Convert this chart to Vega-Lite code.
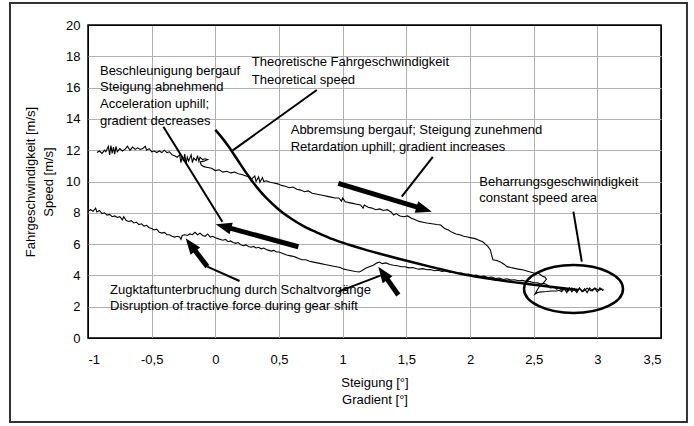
{
  "$schema": "https://vega.github.io/schema/vega-lite/v6.json",
  "width": 573,
  "height": 313,
  "autosize": {"type": "none"},
  "padding": {"left": 88, "top": 25, "right": 33, "bottom": 88},
  "background": "white",
  "config": {
    "font": "Liberation Sans",
    "view": {"stroke": "black", "strokeWidth": 1.5},
    "axis": {
      "grid": true, "gridWidth": 1, "gridOpacity": 1,
      "domain": false, "ticks": false,
      "labelFont": "Liberation Sans", "labelFontSize": 13, "labelColor": "black",
      "titleFont": "Liberation Sans", "titleFontSize": 13, "titleFontWeight": "normal", "titleColor": "black"
    }
  },
  "encoding": {
    "x": {
      "field": "x", "type": "quantitative",
      "scale": {"domain": [-1, 3.5], "nice": false, "zero": false},
      "axis": {
        "values": [-1, -0.5, 0, 0.5, 1, 1.5, 2, 2.5, 3, 3.5],
        "labelExpr": "(datum.value < 0 ? '-' : '') + replace(format(abs(datum.value), '~g'), '.', ',')",
        "labelPadding": 15,
        "gridColor": {"condition": {"test": "datum.value === -1 || datum.value === 3.5", "value": "black"}, "value": "#b0b0b0"},
        "title": ["Steigung [°]", "Gradient [°]"],
        "titleLineHeight": 17,
        "titlePadding": 10
      }
    },
    "y": {
      "field": "y", "type": "quantitative",
      "scale": {"domain": [0, 20], "nice": false, "zero": false},
      "axis": {
        "values": [0, 2, 4, 6, 8, 10, 12, 14, 16, 18, 20],
        "labelPadding": 8,
        "gridColor": {"condition": {"test": "datum.value === 0 || datum.value === 20", "value": "black"}, "value": "#b0b0b0"},
        "title": ["Fahrgeschwindigkeit [m/s]", "Speed [m/s]"],
        "titleLineHeight": 18,
        "titlePadding": 10
      }
    }
  },
  "layer": [
    {
      "data": {"values": [{"x": -1.6126, "x2": 3.704, "y": 21.406, "y2": -5.367}]},
      "mark": {"type": "rect", "filled": false, "stroke": "#333333", "strokeWidth": 2, "clip": false},
      "encoding": {"x2": {"field": "x2"}, "y2": {"field": "y2"}}
    },
    {
      "data": {"values": [
        {"s":"u","x":-0.93,"y":11.85},{"s":"u","x":-0.91,"y":11.95},{"s":"u","x":-0.89,"y":11.8},{"s":"u","x":-0.87,"y":12.0},{"s":"u","x":-0.86,"y":11.9},{"s":"u","x":-0.84,"y":12.25},{"s":"u","x":-0.83,"y":11.7},{"s":"u","x":-0.82,"y":12.3},{"s":"u","x":-0.81,"y":11.8},{"s":"u","x":-0.8,"y":12.2},{"s":"u","x":-0.79,"y":11.75},{"s":"u","x":-0.78,"y":12.25},{"s":"u","x":-0.77,"y":11.9},{"s":"u","x":-0.75,"y":12.1},{"s":"u","x":-0.73,"y":11.95},{"s":"u","x":-0.71,"y":12.05},{"s":"u","x":-0.69,"y":12.25},{"s":"u","x":-0.67,"y":12.0},{"s":"u","x":-0.65,"y":12.2},{"s":"u","x":-0.63,"y":12.05},{"s":"u","x":-0.61,"y":12.15},{"s":"u","x":-0.59,"y":12.05},{"s":"u","x":-0.57,"y":12.1},{"s":"u","x":-0.55,"y":12.25},{"s":"u","x":-0.54,"y":12.0},{"s":"u","x":-0.52,"y":12.1},{"s":"u","x":-0.5,"y":11.9},{"s":"u","x":-0.48,"y":11.95},{"s":"u","x":-0.46,"y":11.85},{"s":"u","x":-0.44,"y":11.95},{"s":"u","x":-0.42,"y":11.85},{"s":"u","x":-0.4,"y":12.0},{"s":"u","x":-0.38,"y":11.85},{"s":"u","x":-0.36,"y":11.9},{"s":"u","x":-0.34,"y":11.7},{"s":"u","x":-0.32,"y":11.65},{"s":"u","x":-0.3,"y":11.55},{"s":"u","x":-0.28,"y":11.7},{"s":"u","x":-0.27,"y":11.2},{"s":"u","x":-0.26,"y":11.6},{"s":"u","x":-0.25,"y":11.3},{"s":"u","x":-0.24,"y":11.75},{"s":"u","x":-0.23,"y":11.15},{"s":"u","x":-0.22,"y":11.55},{"s":"u","x":-0.21,"y":11.3},{"s":"u","x":-0.19,"y":11.7},{"s":"u","x":-0.18,"y":11.2},{"s":"u","x":-0.17,"y":11.5},{"s":"u","x":-0.15,"y":11.35},{"s":"u","x":-0.14,"y":11.65},{"s":"u","x":-0.13,"y":11.3},{"s":"u","x":-0.12,"y":11.55},{"s":"u","x":-0.1,"y":11.4},{"s":"u","x":-0.08,"y":11.45},{"s":"u","x":-0.06,"y":11.4},{"s":"u","x":-0.09,"y":11.3},{"s":"u","x":-0.12,"y":11.25},{"s":"u","x":-0.11,"y":11.05},{"s":"u","x":-0.09,"y":10.95},{"s":"u","x":-0.06,"y":10.9},{"s":"u","x":-0.03,"y":10.85},{"s":"u","x":0.0,"y":10.7},{"s":"u","x":0.03,"y":10.75},{"s":"u","x":0.06,"y":10.6},{"s":"u","x":0.09,"y":10.65},{"s":"u","x":0.12,"y":10.55},{"s":"u","x":0.15,"y":10.6},{"s":"u","x":0.18,"y":10.5},{"s":"u","x":0.21,"y":10.45},{"s":"u","x":0.24,"y":10.35},{"s":"u","x":0.27,"y":10.3},{"s":"u","x":0.28,"y":10.05},{"s":"u","x":0.29,"y":10.2},{"s":"u","x":0.31,"y":10.35},{"s":"u","x":0.32,"y":10.0},{"s":"u","x":0.34,"y":10.3},{"s":"u","x":0.35,"y":9.95},{"s":"u","x":0.37,"y":10.25},{"s":"u","x":0.38,"y":10.0},{"s":"u","x":0.4,"y":10.05},{"s":"u","x":0.43,"y":9.95},{"s":"u","x":0.46,"y":9.9},{"s":"u","x":0.49,"y":9.85},{"s":"u","x":0.52,"y":9.75},{"s":"u","x":0.55,"y":9.7},{"s":"u","x":0.58,"y":9.6},{"s":"u","x":0.61,"y":9.65},{"s":"u","x":0.64,"y":9.5},{"s":"u","x":0.67,"y":9.45},{"s":"u","x":0.7,"y":9.35},{"s":"u","x":0.73,"y":9.4},{"s":"u","x":0.76,"y":9.25},{"s":"u","x":0.79,"y":9.2},{"s":"u","x":0.82,"y":9.15},{"s":"u","x":0.85,"y":9.1},{"s":"u","x":0.88,"y":9.05},{"s":"u","x":0.91,"y":9.0},{"s":"u","x":0.94,"y":8.95},{"s":"u","x":0.97,"y":8.95},{"s":"u","x":0.99,"y":8.75},{"s":"u","x":1.0,"y":8.95},{"s":"u","x":1.02,"y":8.7},{"s":"u","x":1.05,"y":8.65},{"s":"u","x":1.08,"y":8.6},{"s":"u","x":1.11,"y":8.55},{"s":"u","x":1.14,"y":8.5},{"s":"u","x":1.16,"y":8.3},{"s":"u","x":1.17,"y":8.5},{"s":"u","x":1.2,"y":8.35},{"s":"u","x":1.23,"y":8.3},{"s":"u","x":1.26,"y":8.2},{"s":"u","x":1.29,"y":8.25},{"s":"u","x":1.32,"y":8.15},{"s":"u","x":1.35,"y":8.2},{"s":"u","x":1.38,"y":8.05},{"s":"u","x":1.4,"y":7.85},{"s":"u","x":1.42,"y":7.95},{"s":"u","x":1.45,"y":7.8},{"s":"u","x":1.48,"y":7.75},{"s":"u","x":1.51,"y":7.8},{"s":"u","x":1.54,"y":7.65},{"s":"u","x":1.57,"y":7.55},{"s":"u","x":1.6,"y":7.45},{"s":"u","x":1.63,"y":7.4},{"s":"u","x":1.66,"y":7.35},{"s":"u","x":1.7,"y":7.3},{"s":"u","x":1.74,"y":7.25},{"s":"u","x":1.77,"y":7.22},{"s":"u","x":1.8,"y":7.0},{"s":"u","x":1.83,"y":6.9},{"s":"u","x":1.86,"y":6.75},{"s":"u","x":1.89,"y":6.65},{"s":"u","x":1.92,"y":6.6},{"s":"u","x":1.95,"y":6.5},{"s":"u","x":1.98,"y":6.45},{"s":"u","x":2.01,"y":6.4},{"s":"u","x":2.04,"y":6.35},{"s":"u","x":2.07,"y":6.25},{"s":"u","x":2.1,"y":6.15},{"s":"u","x":2.12,"y":6.0},{"s":"u","x":2.14,"y":5.85},{"s":"u","x":2.16,"y":5.62},{"s":"u","x":2.17,"y":5.3},{"s":"u","x":2.18,"y":5.0},{"s":"u","x":2.21,"y":4.95},{"s":"u","x":2.24,"y":4.85},{"s":"u","x":2.27,"y":4.7},{"s":"u","x":2.29,"y":4.56},{"s":"u","x":2.32,"y":4.5},{"s":"u","x":2.35,"y":4.45},{"s":"u","x":2.38,"y":4.4},{"s":"u","x":2.42,"y":4.35},{"s":"u","x":2.46,"y":4.25},{"s":"u","x":2.5,"y":4.15},{"s":"u","x":2.54,"y":4.12},{"s":"u","x":2.57,"y":3.95},{"s":"u","x":2.59,"y":3.88},{"s":"u","x":2.6,"y":3.75},{"s":"u","x":2.58,"y":3.55},{"s":"u","x":2.55,"y":3.35},{"s":"u","x":2.53,"y":3.1},{"s":"u","x":2.51,"y":2.8},{"s":"u","x":2.53,"y":2.9},{"s":"u","x":2.56,"y":2.95},{"s":"u","x":2.6,"y":2.97},{"s":"u","x":2.64,"y":3.0},{"s":"u","x":2.68,"y":3.0},{"s":"u","x":2.7,"y":3.05},{"s":"u","x":2.72,"y":2.95},{"s":"u","x":2.74,"y":3.15},{"s":"u","x":2.76,"y":2.9},{"s":"u","x":2.78,"y":3.2},{"s":"u","x":2.8,"y":2.95},{"s":"u","x":2.82,"y":3.15},{"s":"u","x":2.84,"y":2.9},{"s":"u","x":2.86,"y":3.2},{"s":"u","x":2.88,"y":2.95},{"s":"u","x":2.9,"y":3.15},{"s":"u","x":2.92,"y":2.9},{"s":"u","x":2.94,"y":3.2},{"s":"u","x":2.96,"y":3.0},{"s":"u","x":2.98,"y":3.15},{"s":"u","x":3.0,"y":2.95},{"s":"u","x":3.02,"y":3.2},{"s":"u","x":3.04,"y":3.05},{"s":"u","x":3.05,"y":3.1},
        {"s":"l","x":-1.0,"y":8.1},{"s":"l","x":-0.98,"y":8.2},{"s":"l","x":-0.96,"y":8.1},{"s":"l","x":-0.94,"y":8.3},{"s":"l","x":-0.93,"y":8.05},{"s":"l","x":-0.91,"y":8.15},{"s":"l","x":-0.89,"y":7.95},{"s":"l","x":-0.87,"y":8.0},{"s":"l","x":-0.85,"y":7.85},{"s":"l","x":-0.83,"y":7.9},{"s":"l","x":-0.81,"y":7.75},{"s":"l","x":-0.79,"y":7.8},{"s":"l","x":-0.77,"y":7.7},{"s":"l","x":-0.75,"y":7.75},{"s":"l","x":-0.73,"y":7.55},{"s":"l","x":-0.72,"y":7.75},{"s":"l","x":-0.7,"y":7.5},{"s":"l","x":-0.68,"y":7.45},{"s":"l","x":-0.66,"y":7.5},{"s":"l","x":-0.64,"y":7.35},{"s":"l","x":-0.62,"y":7.4},{"s":"l","x":-0.6,"y":7.25},{"s":"l","x":-0.58,"y":7.3},{"s":"l","x":-0.56,"y":7.15},{"s":"l","x":-0.54,"y":7.2},{"s":"l","x":-0.52,"y":7.05},{"s":"l","x":-0.5,"y":7.0},{"s":"l","x":-0.48,"y":6.9},{"s":"l","x":-0.46,"y":6.95},{"s":"l","x":-0.44,"y":6.75},{"s":"l","x":-0.42,"y":6.7},{"s":"l","x":-0.4,"y":6.75},{"s":"l","x":-0.38,"y":6.6},{"s":"l","x":-0.36,"y":6.6},{"s":"l","x":-0.34,"y":6.5},{"s":"l","x":-0.32,"y":6.45},{"s":"l","x":-0.3,"y":6.5},{"s":"l","x":-0.28,"y":6.45},{"s":"l","x":-0.27,"y":6.3},{"s":"l","x":-0.26,"y":6.55},{"s":"l","x":-0.24,"y":6.6},{"s":"l","x":-0.22,"y":6.55},{"s":"l","x":-0.2,"y":6.65},{"s":"l","x":-0.18,"y":6.6},{"s":"l","x":-0.16,"y":6.75},{"s":"l","x":-0.14,"y":6.6},{"s":"l","x":-0.12,"y":6.7},{"s":"l","x":-0.1,"y":6.55},{"s":"l","x":-0.08,"y":6.5},{"s":"l","x":-0.06,"y":6.65},{"s":"l","x":-0.04,"y":6.45},{"s":"l","x":-0.02,"y":6.5},{"s":"l","x":0.0,"y":6.4},{"s":"l","x":0.02,"y":6.35},{"s":"l","x":0.04,"y":6.3},{"s":"l","x":0.06,"y":6.25},{"s":"l","x":0.08,"y":6.3},{"s":"l","x":0.1,"y":6.15},{"s":"l","x":0.12,"y":6.2},{"s":"l","x":0.14,"y":6.1},{"s":"l","x":0.16,"y":6.05},{"s":"l","x":0.18,"y":6.1},{"s":"l","x":0.2,"y":5.95},{"s":"l","x":0.22,"y":5.9},{"s":"l","x":0.24,"y":5.95},{"s":"l","x":0.26,"y":5.85},{"s":"l","x":0.28,"y":5.8},{"s":"l","x":0.3,"y":5.85},{"s":"l","x":0.32,"y":5.75},{"s":"l","x":0.34,"y":5.8},{"s":"l","x":0.36,"y":5.7},{"s":"l","x":0.38,"y":5.75},{"s":"l","x":0.4,"y":5.65},{"s":"l","x":0.42,"y":5.6},{"s":"l","x":0.44,"y":5.55},{"s":"l","x":0.46,"y":5.6},{"s":"l","x":0.48,"y":5.5},{"s":"l","x":0.5,"y":5.5},{"s":"l","x":0.53,"y":5.4},{"s":"l","x":0.56,"y":5.3},{"s":"l","x":0.59,"y":5.25},{"s":"l","x":0.62,"y":5.2},{"s":"l","x":0.65,"y":5.1},{"s":"l","x":0.68,"y":5.0},{"s":"l","x":0.71,"y":5.0},{"s":"l","x":0.74,"y":4.9},{"s":"l","x":0.77,"y":4.85},{"s":"l","x":0.8,"y":4.8},{"s":"l","x":0.83,"y":4.75},{"s":"l","x":0.86,"y":4.7},{"s":"l","x":0.89,"y":4.65},{"s":"l","x":0.92,"y":4.6},{"s":"l","x":0.95,"y":4.55},{"s":"l","x":0.98,"y":4.5},{"s":"l","x":1.01,"y":4.4},{"s":"l","x":1.04,"y":4.35},{"s":"l","x":1.07,"y":4.3},{"s":"l","x":1.1,"y":4.25},{"s":"l","x":1.13,"y":4.22},{"s":"l","x":1.15,"y":4.3},{"s":"l","x":1.18,"y":4.45},{"s":"l","x":1.21,"y":4.55},{"s":"l","x":1.24,"y":4.65},{"s":"l","x":1.27,"y":4.8},{"s":"l","x":1.29,"y":4.85},{"s":"l","x":1.31,"y":4.75},{"s":"l","x":1.34,"y":4.8},{"s":"l","x":1.37,"y":4.7},{"s":"l","x":1.4,"y":4.65},{"s":"l","x":1.43,"y":4.62},{"s":"l","x":1.46,"y":4.55},{"s":"l","x":1.49,"y":4.55},{"s":"l","x":1.52,"y":4.48},{"s":"l","x":1.55,"y":4.5},{"s":"l","x":1.58,"y":4.42},{"s":"l","x":1.6,"y":4.4},{"s":"l","x":1.63,"y":4.43},{"s":"l","x":1.66,"y":4.36},{"s":"l","x":1.69,"y":4.38},{"s":"l","x":1.72,"y":4.3},{"s":"l","x":1.75,"y":4.33},{"s":"l","x":1.78,"y":4.25},{"s":"l","x":1.81,"y":4.3},{"s":"l","x":1.84,"y":4.2},{"s":"l","x":1.87,"y":4.22},{"s":"l","x":1.9,"y":4.12},{"s":"l","x":1.93,"y":4.15},{"s":"l","x":1.96,"y":4.05},{"s":"l","x":1.99,"y":4.08},{"s":"l","x":2.02,"y":3.98},{"s":"l","x":2.05,"y":4.02},{"s":"l","x":2.08,"y":3.92},{"s":"l","x":2.11,"y":3.95},{"s":"l","x":2.14,"y":3.86},{"s":"l","x":2.17,"y":3.9},{"s":"l","x":2.2,"y":3.8},{"s":"l","x":2.23,"y":3.83},{"s":"l","x":2.26,"y":3.74},{"s":"l","x":2.29,"y":3.78},{"s":"l","x":2.32,"y":3.7},{"s":"l","x":2.35,"y":3.72},{"s":"l","x":2.38,"y":3.66},{"s":"l","x":2.41,"y":3.68},{"s":"l","x":2.44,"y":3.62},{"s":"l","x":2.47,"y":3.6},{"s":"l","x":2.5,"y":3.55},{"s":"l","x":2.53,"y":3.52},{"s":"l","x":2.56,"y":3.45},{"s":"l","x":2.58,"y":3.5},{"s":"l","x":2.61,"y":3.38},{"s":"l","x":2.63,"y":3.2},{"s":"l","x":2.66,"y":3.25},{"s":"l","x":2.68,"y":3.12},{"s":"l","x":2.7,"y":3.2},{"s":"l","x":2.72,"y":3.05},{"s":"l","x":2.74,"y":3.18},{"s":"l","x":2.77,"y":3.0},{"s":"l","x":2.8,"y":3.2},{"s":"l","x":2.83,"y":3.0},{"s":"l","x":2.86,"y":3.15},{"s":"l","x":2.89,"y":2.98},{"s":"l","x":2.92,"y":3.18},{"s":"l","x":2.95,"y":3.02},{"s":"l","x":2.98,"y":3.2},{"s":"l","x":3.01,"y":3.05},{"s":"l","x":3.04,"y":3.15}
      ]},
      "mark": {"type": "line", "color": "black", "strokeWidth": 1.1},
      "encoding": {"detail": {"field": "s"}, "order": {"value": null}}
    },
    {
      "data": {"values": [
        {"x":0.0,"y":13.3},{"x":0.05,"y":12.82},{"x":0.1,"y":12.28},{"x":0.15,"y":11.68},{"x":0.2,"y":11.06},{"x":0.25,"y":10.46},{"x":0.3,"y":9.9},{"x":0.35,"y":9.4},{"x":0.4,"y":8.95},{"x":0.5,"y":8.2},{"x":0.6,"y":7.6},{"x":0.7,"y":7.12},{"x":0.8,"y":6.74},{"x":0.927,"y":6.3},{"x":1.05,"y":5.96},{"x":1.163,"y":5.68},{"x":1.3,"y":5.37},{"x":1.425,"y":5.1},{"x":1.55,"y":4.84},{"x":1.686,"y":4.56},{"x":1.82,"y":4.3},{"x":1.948,"y":4.07},{"x":2.08,"y":3.88},{"x":2.21,"y":3.72},{"x":2.34,"y":3.57},{"x":2.47,"y":3.43},{"x":2.6,"y":3.3},{"x":2.75,"y":3.16},{"x":2.85,"y":3.07}
      ]},
      "mark": {"type": "line", "color": "black", "strokeWidth": 2.5, "interpolate": "monotone"}
    },
    {
      "data": {"values": [
        {"x":0.797,"y":15.85,"x2":0.134,"y2":11.97},
        {"x":-0.408,"y":13.5,"x2":0.055,"y2":7.43},
        {"x":1.708,"y":11.58,"x2":1.464,"y2":9.03},
        {"x":2.812,"y":8.07,"x2":2.878,"y2":4.88},
        {"x":-0.063,"y":4.56,"x2":0.19,"y2":3.64},
        {"x":0.966,"y":2.96,"x2":1.3,"y2":4.0}
      ]},
      "mark": {"type": "rule", "color": "black", "strokeWidth": 2},
      "encoding": {"x2": {"field": "x2"}, "y2": {"field": "y2"}}
    },
    {
      "data": {"values": [
        {"x":0.652,"y":5.83,"x2":0.079,"y2":7.10},
        {"x":-0.063,"y":4.56,"x2":-0.185,"y2":5.86},
        {"x":0.966,"y":9.88,"x2":1.625,"y2":8.26},
        {"x":1.437,"y":2.75,"x2":1.326,"y2":4.03}
      ]},
      "mark": {"type": "rule", "color": "black", "strokeWidth": 5, "strokeCap": "butt"},
      "encoding": {"x2": {"field": "x2"}, "y2": {"field": "y2"}}
    },
    {
      "data": {"values": [{"x":0.003,"y":7.27}]},
      "mark": {"type": "point", "shape": "M0,0L0.75,2L-0.75,2Z", "size": 256, "filled": true, "color": "black", "opacity": 1, "angle": 285.2}
    },
    {
      "data": {"values": [{"x":-0.233,"y":6.37}]},
      "mark": {"type": "point", "shape": "M0,0L0.75,2L-0.75,2Z", "size": 256, "filled": true, "color": "black", "opacity": 1, "angle": 322.7}
    },
    {
      "data": {"values": [{"x":1.700,"y":8.07}]},
      "mark": {"type": "point", "shape": "M0,0L0.75,2L-0.75,2Z", "size": 256, "filled": true, "color": "black", "opacity": 1, "angle": 106.9}
    },
    {
      "data": {"values": [{"x":1.280,"y":4.56}]},
      "mark": {"type": "point", "shape": "M0,0L0.75,2L-0.75,2Z", "size": 256, "filled": true, "color": "black", "opacity": 1, "angle": 324.8}
    },
    {
      "data": {"values": [{"x":2.813,"y":3.13}]},
      "mark": {"type": "point", "shape": "M-1,0A1,0.485,0,1,0,1,0A1,0.485,0,1,0,-1,0Z", "size": 9801, "filled": false, "stroke": "black", "strokeWidth": 2.5, "opacity": 1}
    },
    {
      "data": {"values": [
        {"x":-0.906,"y":17.08,"t":"Beschleunigung bergauf"},
        {"x":-0.906,"y":16.02,"t":"Steigung abnehmend"},
        {"x":-0.906,"y":14.95,"t":"Acceleration uphill;"},
        {"x":-0.906,"y":13.88,"t":"gradient decreases"},
        {"x":0.286,"y":17.64,"t":"Theoretische Fahrgeschwindigkeit"},
        {"x":0.286,"y":16.5,"t":"Theoretical speed"},
        {"x":0.592,"y":13.29,"t":"Abbremsung bergauf; Steigung zunehmend"},
        {"x":0.592,"y":12.22,"t":"Retardation uphill; gradient increases"},
        {"x":2.073,"y":9.99,"t":"Beharrungsgeschwindigkeit"},
        {"x":2.073,"y":8.93,"t":"constant speed area"},
        {"x":-0.827,"y":3.07,"t":"Zugktaftunterbruchung durch Schaltvorgänge"},
        {"x":-0.827,"y":2.04,"t":"Disruption of tractive force during gear shift"}
      ]},
      "mark": {"type": "text", "align": "left", "baseline": "middle", "fontSize": 13, "font": "Liberation Sans", "color": "black"},
      "encoding": {"text": {"field": "t"}}
    }
  ]
}
